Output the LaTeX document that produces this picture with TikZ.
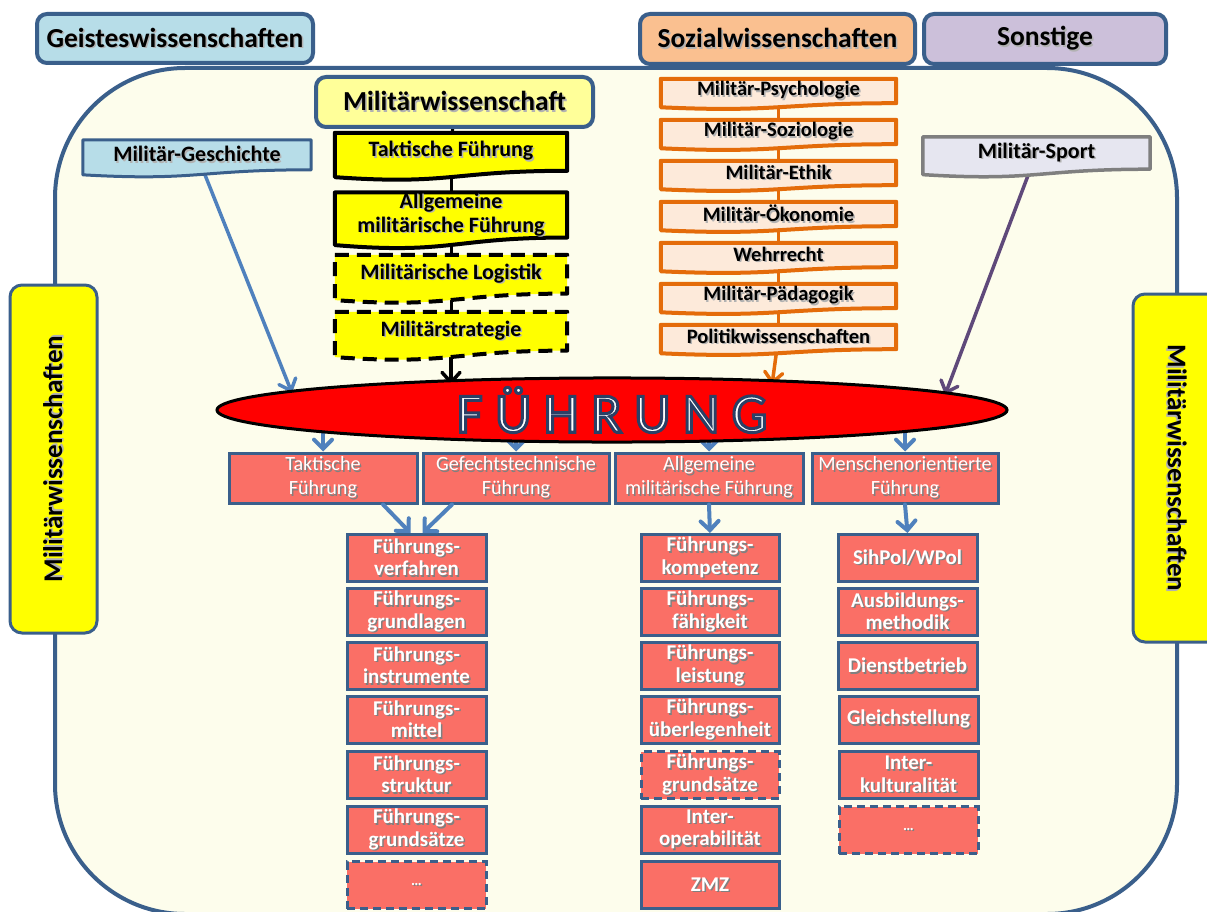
\documentclass[tikz,border=0pt]{standalone}
\usepackage{fontspec}
\setmainfont{Carlito}
\usetikzlibrary{calc,arrows.meta,shapes.geometric}
\pgfdeclarelayer{back}
\pgfdeclarelayer{mid}
\pgfsetlayers{back,mid,main}

\definecolor{framec}{HTML}{3A5F8B}
\definecolor{cream}{HTML}{FDFDEC}
\definecolor{geistc}{HTML}{B7DDE8}
\definecolor{sozc}{HTML}{FAC090}
\definecolor{sonstc}{HTML}{CCC0DA}
\definecolor{mwc}{HTML}{FFFF99}
\definecolor{yel}{HTML}{FFFF00}
\definecolor{orab}{HTML}{E46C0A}
\definecolor{oraf}{HTML}{FDEADA}
\definecolor{sportf}{HTML}{E6E6F0}
\definecolor{sportb}{HTML}{7F7F7F}
\definecolor{arrowblue}{HTML}{4F81BD}
\definecolor{purp}{HTML}{5F497A}
\definecolor{salmon}{HTML}{FA6F66}

\newcommand\fsz[2]{\fontsize{#1pt}{#2pt}\selectfont}
% text with a soft drop shadow (white text / black text)
\newcommand\shw[1]{\leavevmode\rlap{\kern1.5pt\raisebox{-1.5pt}{\textcolor{black!50}{#1}}}#1}
\newcommand\shk[1]{\leavevmode\rlap{\kern1.5pt\raisebox{-1.5pt}{\textcolor{black!30}{#1}}}#1}
\newcommand\wtwo[2]{\shw{#1}\\\shw{#2}}
\newcommand\ktwo[2]{\shk{#1}\\\shk{#2}}
% outlined lettering: fill and stroke the glyphs
\newcommand\outl[1]{\special{pdf:code 2 Tr 3 w 0.17 0.25 0.40 RG}#1\special{pdf:code 0 Tr}}
% flow-chart "document" outline around a node (the node is the upper text area)
\newcommand\docpath[2]{%
  \path[#1] (#2.north west) -- (#2.north east) -- (#2.south east)
    .. controls (#2.south) and ($(#2.north)!1.384!(#2.south)$)
    .. ($(#2.north west)!1.1675!(#2.south west)$) -- cycle;}

\begin{document}
\begin{tikzpicture}[x=1pt,y=-1pt,
  hdr/.style={draw=framec, line width=4pt, rounded corners=10pt,
    font=\bfseries\fsz{27.5}{29}, inner sep=0pt},
  docbox/.style={draw=none, inner sep=0pt, align=center},
  ylw/.style={docbox, minimum width=232pt, font=\bfseries\fsz{22}{24}},
  org/.style={docbox, minimum width=235pt, minimum height=24pt, font=\bfseries\fsz{20.5}{21}},
  redbox/.style={draw=framec, line width=3pt, fill=salmon, text=white, align=center,
    inner sep=0pt, font=\fsz{20.2}{24}, minimum height=50pt},
  subbox/.style={draw=framec, line width=3pt, fill=salmon, text=white, align=center,
    inner sep=0pt, font=\bfseries\fsz{21}{22.5}, minimum width=139pt, minimum height=47pt},
  dashbox/.style={subbox, dash pattern=on 8pt off 5pt},
  side/.style={draw=framec, line width=3pt, fill=yel, rounded corners=12pt,
    minimum width=348pt, minimum height=87pt, inner sep=0pt, font=\bfseries\fsz{27}{29}},
  arr/.style={line width=4pt, arrowblue, line cap=round,
    -{Straight Barb[length=9pt,width=18pt,line cap=round]}},
  feed/.style={line width=3.5pt, line cap=round,
    -{Straight Barb[length=10pt,width=18pt,line cap=round]}},
  stem/.style={line width=3pt},
]
\useasboundingbox (0,0) rectangle (1207,912);

% ---------------- outer frame ----------------
\begin{pgfonlayer}{back}
  \fill[white] (0,0) rectangle (1207,912);
  \draw[line width=4pt, draw=framec, fill=cream, rounded corners=130pt]
    (55,68) rectangle (1177,914);
\end{pgfonlayer}

% ---------------- headers ----------------
\node[hdr, fill=geistc, minimum width=276pt, minimum height=49pt] (geist) at (175,38.5) {\shk{Geisteswissenschaften}};
\node[hdr, fill=sozc, minimum width=275pt, minimum height=50pt] (soz) at (777.5,39) {\shk{Sozialwissenschaften}};
\node[hdr, fill=sonstc, minimum width=242pt, minimum height=50pt] (sonst) at (1045,39) {\shk{Sonstige}};
\node[hdr, fill=mwc, minimum width=277pt, minimum height=50pt] (mw) at (454.5,102) {\shk{Militärwissenschaft}};

% ---------------- side labels ----------------
\node[side, rotate=90] (sideL) at (53.5,459) {\shk{Militärwissenschaften}};
\node[side, rotate=-90] (sideR) at (1176.5,468) {\shk{Militärwissenschaften}};

% ---------------- yellow column ----------------
\node[ylw, minimum height=37.6pt] (tf) at (451,151.8) {\shk{Taktische Führung}};
\node[ylw, minimum height=44pt] (amf) at (451,215) {\ktwo{Allgemeine}{militärische Führung}};
\node[ylw, minimum height=38.4pt] (log) at (451,274.2) {\shk{Militärische Logistik}};
\node[ylw, minimum height=38.4pt] (strat) at (451,331.2) {\shk{Militärstrategie}};

% ---------------- orange column ----------------
\node[org] (o1) at (778.5,91) {\shk{Militär-Psychologie}};
\node[org] (o2) at (778.5,132) {\shk{Militär-Soziologie}};
\node[org] (o3) at (778.5,173) {\shk{Militär-Ethik}};
\node[org] (o4) at (778.5,214) {\shk{Militär-Ökonomie}};
\node[org] (o5) at (778.5,255) {\shk{Wehrrecht}};
\node[org] (o6) at (778.5,296) {\shk{Militär-Pädagogik}};
\node[org] (o7) at (778.5,337) {\shk{Politikwissenschaften}};

% ---------------- side disciplines ----------------
\node[docbox, minimum width=228pt, minimum height=29.6pt, font=\bfseries\fsz{22}{22}] (gesch) at (197,154.8) {\shk{Militär-Geschichte}};
\node[docbox, minimum width=227pt, minimum height=32pt, font=\bfseries\fsz{22}{22}] (sport) at (1036.5,153) {\shk{Militär-Sport}};

% ---------------- central ellipse ----------------
\node[ellipse, draw=black, line width=3pt, fill=red, minimum width=790pt, minimum height=54pt,
  inner sep=0pt, text=white, font=\fsz{56}{56}] (ell) at (612,410) {\outl{F Ü H R U N G}};
\coordinate (gtip) at (292,393);
\coordinate (stip) at (451,385);
\coordinate (ptip) at (772,385);
\coordinate (sptip) at (945,395);

% ---------------- second level ----------------
\node[redbox, minimum width=188pt] (r1) at (323,478) {\wtwo{Taktische}{Führung}};
\node[redbox, minimum width=186pt] (r2) at (516,478) {\wtwo{Gefechtstechnische}{Führung}};
\node[redbox, minimum width=188pt] (r3) at (709,478) {\wtwo{Allgemeine}{militärische Führung}};
\node[redbox, minimum width=186pt] (r4) at (905,478) {\wtwo{Menschenorientierte}{Führung}};

% ---------------- third level ----------------
\node[subbox] (a1) at (416.5,558) {\wtwo{Führungs-}{verfahren}};
\node[subbox] (a2) at (416.5,612) {\wtwo{Führungs-}{grundlagen}};
\node[subbox] (a3) at (416.5,666) {\wtwo{Führungs-}{instrumente}};
\node[subbox] (a4) at (416.5,720) {\wtwo{Führungs-}{mittel}};
\node[subbox] (a5) at (416.5,775) {\wtwo{Führungs-}{struktur}};
\node[subbox] (a6) at (416.5,830) {\wtwo{Führungs-}{grundsätze}};
\node[dashbox, font=\bfseries\fsz{15}{16}] (a7) at (416.5,885) {\shw{…}};

\node[subbox, minimum width=138pt] (b1) at (710,558) {\wtwo{Führungs-}{kompetenz}};
\node[subbox, minimum width=138pt] (b2) at (710,612) {\wtwo{Führungs-}{fähigkeit}};
\node[subbox, minimum width=138pt] (b3) at (710,666) {\wtwo{Führungs-}{leistung}};
\node[subbox, minimum width=138pt] (b4) at (710,720) {\wtwo{Führungs-}{überlegenheit}};
\node[dashbox, minimum width=138pt] (b5) at (710,775) {\wtwo{Führungs-}{grundsätze}};
\node[subbox, minimum width=138pt] (b6) at (710,830) {\wtwo{Inter-}{operabilität}};
\node[subbox, minimum width=138pt] (b7) at (710,885) {\shw{ZMZ}};

\node[subbox] (c1) at (907.5,558) {\shw{SihPol/WPol}};
\node[subbox] (c2) at (907.5,612) {\wtwo{Ausbildungs-}{methodik}};
\node[subbox] (c3) at (907.5,666) {\shw{Dienstbetrieb}};
\node[subbox] (c4) at (908.5,720) {\shw{Gleichstellung}};
\node[subbox] (c5) at (908.5,775) {\wtwo{Inter-}{kulturalität}};
\node[dashbox, font=\bfseries\fsz{15}{16}] (c6) at (908.5,830) {\shw{…}};

% ---------------- document outlines ----------------
\begin{pgfonlayer}{mid}
  \docpath{draw=black, line width=4pt, fill=yel, line join=round}{tf}
  \docpath{draw=black, line width=4pt, fill=yel, line join=round}{amf}
  \docpath{draw=black, line width=4pt, fill=yel, line join=round, dash pattern=on 14pt off 8pt}{log}
  \docpath{draw=black, line width=4pt, fill=yel, line join=round, dash pattern=on 14pt off 8pt}{strat}
  \foreach \o in {o1,o2,o3,o4,o5,o6,o7}
    \docpath{draw=orab, line width=4pt, fill=oraf, line join=round}{\o};
  \docpath{draw=framec, line width=3pt, fill=geistc, line join=round}{gesch}
  \docpath{draw=sportb, line width=3.5pt, fill=sportf, line join=round}{sport}
\end{pgfonlayer}

% ---------------- connectors ----------------
\begin{pgfonlayer}{back}
  \draw[stem, black] (mw) -- (tf);
  \draw[stem, black] (tf) -- (amf);
  \draw[stem, black] (amf) -- (log);
  \draw[stem, black] (log) -- (strat);
  \draw[feed, black] (strat) -- (stip);
  \foreach \p/\q in {o1/o2,o2/o3,o3/o4,o4/o5,o5/o6,o6/o7}
    \draw[stem, orab] (\p) -- (\q);
  \draw[feed, orab] (o7) -- (ptip);
  \draw[feed, arrowblue] (gesch) -- (gtip);
  \draw[feed, purp] (sport) -- (sptip);
  \draw[arr] (ell.center -| r1.north) -- (r1.north);
  \draw[arr] (ell.center -| r2.north) -- (r2.north);
  \draw[arr] (ell.center -| r3.north) -- (r3.north);
  \draw[arr] (ell.center -| r4.north) -- (r4.north);
\end{pgfonlayer}
\draw[arr] ($(r1.south)+(60,0)$) -- ($(a1.north)+(-6,0)$);
\draw[arr] ($(r2.south)+(-64,0)$) -- ($(a1.north)+(6,0)$);
\draw[arr] (r3.south) -- (b1.north);
\draw[arr] (r4.south) -- (c1.north);
\end{tikzpicture}
\end{document}
